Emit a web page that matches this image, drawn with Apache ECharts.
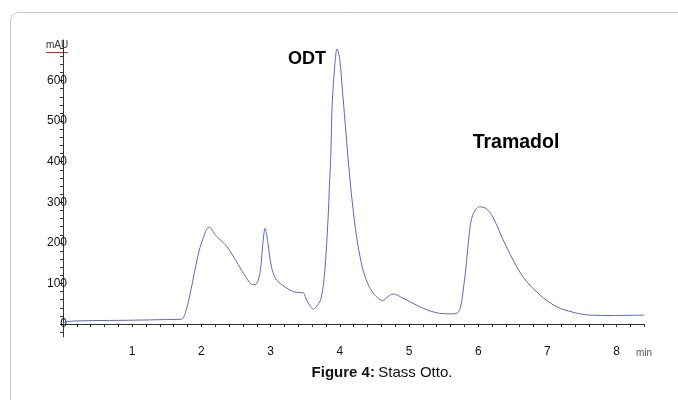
<!DOCTYPE html>
<html>
<head>
<meta charset="utf-8">
<script src="https://cdn.jsdelivr.net/npm/echarts@6/dist/echarts.min.js"></script>
<style>html,body{margin:0;padding:0;background:#fff}#c{width:678px;height:400px}</style>
</head>
<body>
<div id="c"></div>
<script>
// retention time (min) and absorbance (mAU)
const times = [0,0.05,0.3,0.8,1.2,1.5,1.71,1.78,1.85,1.95,2.02,2.11,2.21,2.3,2.36,2.45,2.53,2.65,2.74,2.8,2.85,2.89,2.92,2.96,3.01,3.08,3.23,3.37,3.47,3.51,3.56,3.62,3.68,3.73,3.78,3.83,3.85,3.87,3.89,3.93,3.96,4.0,4.03,4.08,4.13,4.18,4.24,4.31,4.38,4.48,4.62,4.7,4.77,4.91,5.15,5.39,5.6,5.68,5.74,5.79,5.83,5.87,5.92,6.02,6.12,6.21,6.4,6.64,6.89,7.13,7.37,7.61,7.95,8.4];
const mAU = [2,6,8,9,10,11,12,35,85,168,209,239,218,203,193,170,147,114,97,100,130,201,236,201,143,110,89,78,77,64,47,37,47,64,126,259,340,417,542,642,678,652,592,490,388,301,218,151,110,77,58,68,74,64,43,28,25,26,39,93,151,222,268,289,284,264,193,118,72,43,29,22,21,22];
const yLabels = [0,100,200,300,400,500,600];
const xLabels = [1,2,3,4,5,6,7,8];
const peakNames = ['ODT','Tramadol'];

const xTicks = []; for (let i = 0; i <= 42; i++) xTicks.push(+(i*0.2).toFixed(1));
const yTicks = []; for (let v = -20; v <= 680; v += 20) yTicks.push(v);

const chart = echarts.init(document.getElementById('c'));
const F = 'Liberation Sans, Arial, sans-serif';
chart.setOption({
  animation: false,
  grid: {left: 63, top: 40, width: 581.3, height: 297, containLabel: false},
  xAxis: {
    type: 'value', min: 0, max: 8.4, interval: 1,
    axisLine: {lineStyle: {color: '#333', width: 1}},
    axisTick: {customValues: xTicks, length: 3, lineStyle: {color: '#333'}},
    axisLabel: {customValues: xLabels, color: '#111', fontSize: 12, fontFamily: F, margin: 9},
    splitLine: {show: false}
  },
  yAxis: {
    type: 'value', min: -32, max: 700,
    axisLine: {show: true, lineStyle: {color: '#333', width: 1}},
    axisTick: {show: true, customValues: yTicks, length: 3, lineStyle: {color: '#333'}},
    axisLabel: {customValues: yLabels, color: '#111', fontSize: 12, fontFamily: F, margin: -4},
    splitLine: {show: false}
  },
  series: [{
    type: 'line',
    data: times.map((t, i) => [t, mAU[i]]),
    showSymbol: false,
    smooth: 0.35,
    lineStyle: {color: '#5a68c0', width: 1}
  }],
  graphic: [
    {type: 'rect', shape: {x: 10.5, y: 12.5, width: 720, height: 440, r: 8}, style: {fill: 'none', stroke: '#c4c4c4', lineWidth: 1}, z: -1},
    {type: 'text', x: 57, y: 45, style: {text: 'mAU', font: '10px ' + F, fill: '#333', align: 'center', verticalAlign: 'middle'}},
    {type: 'line', shape: {x1: 46, y1: 52.5, x2: 68, y2: 52.5}, style: {stroke: '#e02020', lineWidth: 1}},
    {type: 'text', x: 644, y: 353, style: {text: 'min', font: '10px ' + F, fill: '#555', align: 'center', verticalAlign: 'middle'}},
    {type: 'text', x: 307, y: 59, style: {text: peakNames[0], font: 'bold 18px ' + F, fill: '#000', align: 'center', verticalAlign: 'middle'}},
    {type: 'text', x: 516, y: 143, style: {text: peakNames[1], font: 'bold 19.5px ' + F, fill: '#000', align: 'center', verticalAlign: 'middle'}},
    {type: 'text', x: 382, y: 373, style: {
      text: '{b|Figure 4:} {n|Stass Otto.}', align: 'center', verticalAlign: 'middle',
      rich: {b: {font: 'bold 15px ' + F, fill: '#111'}, n: {font: '15px ' + F, fill: '#111'}}
    }}
  ]
});
</script>
</body>
</html>
